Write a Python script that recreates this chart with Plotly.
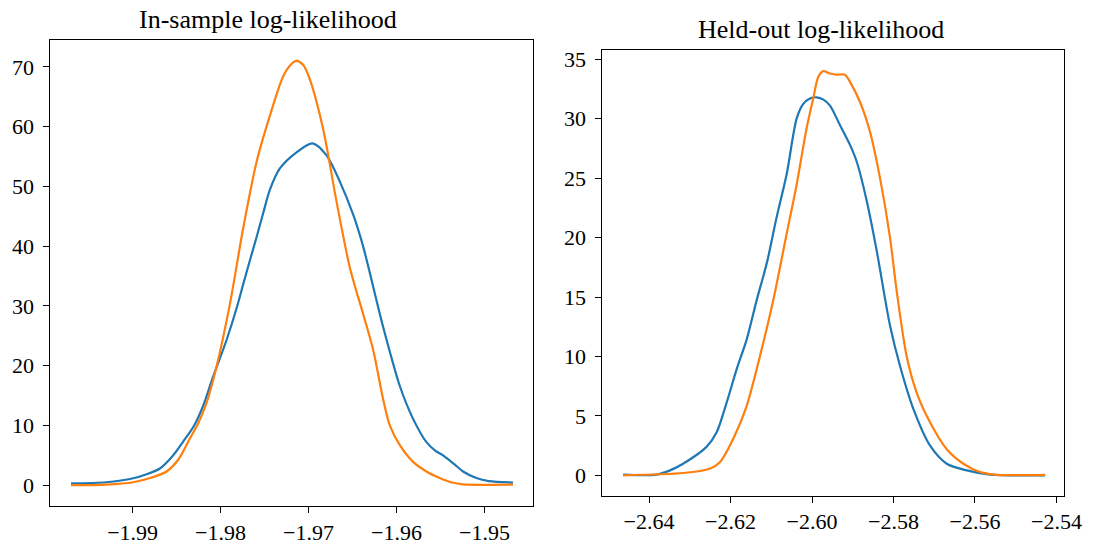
import plotly.graph_objects as go

# ---------------- data ----------------
in_blue_x = [-1.99700, -1.99300, -1.98993, -1.98850, -1.98690, -1.98550, -1.98425, -1.98300,
             -1.98198, -1.98084, -1.97932, -1.97818, -1.97743, -1.97667, -1.97591, -1.97516,
             -1.97440, -1.97326, -1.97136, -1.96955, -1.96795, -1.96644, -1.96493, -1.96380,
             -1.96152, -1.95962, -1.95811, -1.95659, -1.95560, -1.95470, -1.95350, -1.95243,
             -1.95091, -1.94950, -1.94675]
in_blue_y = [0.3, 0.5, 1.16, 1.8, 2.8, 4.8, 7.3, 10.0,
             13.3, 18.2, 24.3, 29.6, 33.6, 37.6, 41.5, 45.5,
             49.4, 53.0, 55.7, 57.2, 55.2, 50.8, 45.3, 40.0,
             26.5, 16.6, 11.1, 7.2, 5.8, 5.0, 3.6, 2.3,
             1.2, 0.7, 0.45]

in_orange_x = [-1.99700, -1.99300, -1.98993, -1.98800, -1.98614, -1.98480, -1.98349, -1.98250,
               -1.98159, -1.98045, -1.97894, -1.97743, -1.97591, -1.97440, -1.97289, -1.97200,
               -1.97136, -1.97060, -1.96985, -1.96834, -1.96682, -1.96530, -1.96380, -1.96266,
               -1.96152, -1.96076, -1.95962, -1.95811, -1.95660, -1.95508, -1.95380, -1.95243,
               -1.94675]
in_orange_y = [0.0, 0.1, 0.5, 1.2, 2.3, 4.3, 7.8, 10.5,
               13.8, 19.9, 30.3, 43.0, 54.1, 61.8, 68.4, 70.4,
               71.0, 70.3, 67.9, 59.6, 47.5, 36.4, 28.7, 22.7,
               14.4, 10.0, 6.7, 3.9, 2.3, 1.2, 0.5, 0.15,
               0.1]

ho_blue_x = [-2.64639, -2.63818, -2.63500, -2.63165, -2.62590, -2.62344, -2.62098, -2.61853,
             -2.61607, -2.61361, -2.61100, -2.60870, -2.60624, -2.60378, -2.60215, -2.60050,
             -2.59887, -2.59720, -2.59559, -2.59313, -2.59068, -2.58904, -2.58658, -2.58413,
             -2.58086, -2.57840, -2.57513, -2.57101, -2.56693, -2.56201, -2.55629,
             -2.54278]
ho_blue_y = [0.06, 0.06, 0.4, 0.98, 2.4, 3.6, 6.1, 8.9,
             11.4, 14.7, 18.0, 21.7, 25.3, 30.0, 31.25, 31.7,
             31.8, 31.6, 31.1, 29.45, 27.8, 26.4, 23.1, 18.9,
             12.6, 9.2, 5.6, 2.5, 0.98, 0.42, 0.06,
             0.0]

ho_orange_x = [-2.64639, -2.63165, -2.62509, -2.62263, -2.61936, -2.61607, -2.61280, -2.60953,
               -2.60624, -2.60378, -2.60133, -2.59970, -2.59848, -2.59725, -2.59559, -2.59396,
               -2.59192, -2.59068, -2.58822, -2.58577, -2.58331, -2.58086, -2.57922, -2.57676,
               -2.57430, -2.57101, -2.56693, -2.56285, -2.55875, -2.55466, -2.54278]
ho_orange_y = [0.0, 0.2, 0.56, 1.1, 3.06, 5.8, 10.0, 14.7,
               20.3, 24.45, 29.2, 31.7, 33.5, 34.0, 33.8, 33.7,
               33.7, 33.1, 31.4, 28.9, 25.0, 20.0, 15.5, 10.0,
               6.95, 4.45, 2.2, 0.98, 0.28, 0.05, 0.05]

titles = ["In-sample log-likelihood", "Held-out log-likelihood"]
in_xticks = [-1.99, -1.98, -1.97, -1.96, -1.95]
in_yticks = [0, 10, 20, 30, 40, 50, 60, 70]
ho_xticks = [-2.64, -2.62, -2.60, -2.58, -2.56, -2.54]
ho_yticks = [0, 5, 10, 15, 20, 25, 30, 35]

BLUE = "#1f77b4"
ORANGE = "#ff7f0e"
FONT = "Liberation Serif"

W, H = 1099, 545
K = 0.985  # the captured page comes out slightly reduced; compensate


def px_x(p):
    return p / (K * W)


def px_y(p):
    return 1 - p / (K * H)


def fmt(v, nd):
    s = f"{abs(v):.{nd}f}"
    return ("\u2212" + s) if v < 0 else s


fig = go.Figure()
line_kw = dict(shape="spline", smoothing=0.8, width=2.2)
fig.add_trace(go.Scatter(x=in_blue_x, y=in_blue_y, mode="lines", line=dict(color=BLUE, **line_kw),
                         xaxis="x", yaxis="y", showlegend=False, hoverinfo="skip"))
fig.add_trace(go.Scatter(x=in_orange_x, y=in_orange_y, mode="lines", line=dict(color=ORANGE, **line_kw),
                         xaxis="x", yaxis="y", showlegend=False, hoverinfo="skip"))
fig.add_trace(go.Scatter(x=ho_blue_x, y=ho_blue_y, mode="lines", line=dict(color=BLUE, **line_kw),
                         xaxis="x2", yaxis="y2", showlegend=False, hoverinfo="skip"))
fig.add_trace(go.Scatter(x=ho_orange_x, y=ho_orange_y, mode="lines", line=dict(color=ORANGE, **line_kw),
                         xaxis="x2", yaxis="y2", showlegend=False, hoverinfo="skip"))

axis_common = dict(showgrid=False, zeroline=False, showline=True, linecolor="black", linewidth=1.1,
                   mirror=True, ticks="outside", ticklen=6, tickwidth=1.1, tickcolor="black",
                   tickfont=dict(family=FONT, size=22, color="black"))
yaxis_extra = dict(ticklabelstandoff=5)

fig.update_layout(
    width=W, height=H, margin=dict(l=0, r=0, t=0, b=0),
    paper_bgcolor="white", plot_bgcolor="white",
    xaxis=dict(domain=[px_x(50.5), px_x(533.5)], range=[-1.99934, -1.94445], anchor="y",
               tickvals=in_xticks, ticktext=[fmt(v, 2) for v in in_xticks], **axis_common),
    yaxis=dict(domain=[px_y(508), px_y(37)], range=[-3.55, 74.55], anchor="x",
               tickvals=in_yticks, ticktext=[fmt(v, 0) for v in in_yticks], **axis_common, **yaxis_extra),
    xaxis2=dict(domain=[px_x(602.7), px_x(1065)], range=[-2.65145, -2.53803], anchor="y2",
                tickvals=ho_xticks, ticktext=[fmt(v, 2) for v in ho_xticks], **axis_common),
    yaxis2=dict(domain=[px_y(497.2), px_y(47.5)], range=[-1.71, 35.77], anchor="x2",
                tickvals=ho_yticks, ticktext=[fmt(v, 0) for v in ho_yticks], **axis_common, **yaxis_extra),
    annotations=[
        dict(text=titles[0], x=px_x(268), y=px_y(17), xref="paper", yref="paper",
             showarrow=False, xanchor="center", yanchor="middle",
             font=dict(family=FONT, size=26, color="black")),
        dict(text=titles[1], x=px_x(821), y=px_y(27), xref="paper", yref="paper",
             showarrow=False, xanchor="center", yanchor="middle",
             font=dict(family=FONT, size=26, color="black")),
    ],
)

fig.write_html("out.html")
